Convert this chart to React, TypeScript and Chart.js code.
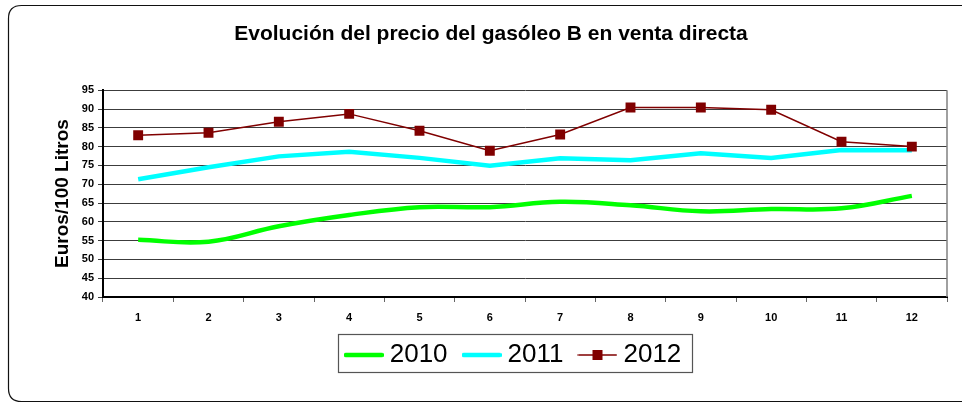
import React, { useEffect, useRef } from "react";
import { Chart, registerables } from "chart.js";

Chart.register(...registerables);

const months = ["1", "2", "3", "4", "5", "6", "7", "8", "9", "10", "11", "12"];
const values2010 = [55.2, 54.7, 58.8, 61.8, 63.9, 63.9, 65.3, 64.4, 62.8, 63.4, 63.6, 66.9];
const values2011 = [71.3, 74.5, 77.4, 78.6, 77.0, 74.9, 76.9, 76.4, 78.2, 77.0, 79.1, 79.0];
const values2012 = [83.0, 83.7, 86.6, 88.7, 84.2, 78.9, 83.2, 90.4, 90.4, 89.8, 81.3, 80.0];
const seriesNames = ["2010", "2011", "2012"];
const titleText = "Evolución del precio del gasóleo B en venta directa";
const yTitle = "Euros/100 Litros";

const FONT = "Arial, 'Liberation Sans', sans-serif";
const LEGEND_FONT_SIZE = 26;
const LEGEND_PAD = 21;
const LEGEND_CENTER = 516;
const TITLE_CENTER = 491;

function makeLineIcon(color: string, width: number, withSquare: boolean) {
  const c = document.createElement("canvas");
  c.width = 40;
  c.height = 12;
  const ctx = c.getContext("2d")!;
  ctx.strokeStyle = color;
  ctx.lineWidth = width;
  ctx.lineCap = "round";
  ctx.beginPath();
  ctx.moveTo(withSquare ? 1 : 2, 6);
  ctx.lineTo(withSquare ? 39 : 38, 6);
  ctx.stroke();
  if (withSquare) {
    ctx.fillStyle = color;
    ctx.fillRect(15, 1, 10, 10);
  }
  return c;
}

const framePlugin = {
  id: "frame",
  beforeDraw(chart: any) {
    const ctx = chart.ctx;
    ctx.save();
    ctx.fillStyle = "#fff";
    ctx.fillRect(0, 0, chart.width, chart.height);
    ctx.strokeStyle = "#111";
    ctx.lineWidth = 1.2;
    const l = 8.5, t = 5.5, r = 962, b = 401.5, rad = 13;
    ctx.beginPath();
    ctx.moveTo(r, t);
    ctx.lineTo(l + rad, t);
    ctx.quadraticCurveTo(l, t, l, t + rad);
    ctx.lineTo(l, b - rad);
    ctx.quadraticCurveTo(l, b, l + rad, b);
    ctx.lineTo(r, b);
    ctx.stroke();
    ctx.restore();
  },
  afterLayout(chart: any) {
    const lg = chart.legend;
    if (lg) {
      const shift = LEGEND_CENTER - (lg.left + lg.right) / 2;
      lg.left += shift;
      lg.right += shift;
    }
    const tt = chart.titleBlock;
    if (tt) {
      const shift = TITLE_CENTER - (tt.left + tt.right) / 2;
      tt.left += shift;
      tt.right += shift;
    }
  },
  afterDraw(chart: any) {
    const ctx = chart.ctx;
    const ca = chart.chartArea;
    ctx.save();
    // right border of plot area
    ctx.strokeStyle = "#808080";
    ctx.lineWidth = 1.5;
    ctx.beginPath();
    ctx.moveTo(ca.right, ca.top);
    ctx.lineTo(ca.right, ca.bottom);
    ctx.stroke();
    // legend box
    const lg = chart.legend;
    if (lg) {
      ctx.font = `${LEGEND_FONT_SIZE}px ${FONT}`;
      const boxW = 26;
      let sum = 0;
      seriesNames.forEach((s) => {
        sum += boxW + LEGEND_FONT_SIZE / 2 + ctx.measureText(s).width;
      });
      const content = sum + 2 * LEGEND_PAD;
      const cx = (lg.left + lg.right) / 2;
      const start = cx - content / 2;
      const cy = lg.top + LEGEND_PAD + LEGEND_FONT_SIZE / 2;
      ctx.strokeStyle = "#555";
      ctx.lineWidth = 1.2;
      ctx.strokeRect(Math.round(start - 13) + 0.5, Math.round(cy - 21) + 0.5, Math.round(content + 23), 38);
    }
    ctx.restore();
  },
};

export default function App() {
  const ref = useRef<HTMLCanvasElement | null>(null);
  useEffect(() => {
    document.body.style.margin = "0";
    const icons = [
      makeLineIcon("#00ff00", 4.5, false),
      makeLineIcon("#00ffff", 4.5, false),
      makeLineIcon("#800000", 1.5, true),
    ];
    const chart = new Chart(ref.current!, {
      type: "line",
      data: {
        labels: months,
        datasets: [
          {
            label: seriesNames[0],
            data: values2010,
            borderColor: "#00ff00",
            backgroundColor: "#00ff00",
            borderWidth: 4.5,
            tension: 0.4,
            pointRadius: 0,
            order: 3,
          },
          {
            label: seriesNames[1],
            data: values2011,
            borderColor: "#00ffff",
            backgroundColor: "#00ffff",
            borderWidth: 4.5,
            tension: 0,
            pointRadius: 0,
            order: 2,
          },
          {
            label: seriesNames[2],
            data: values2012,
            borderColor: "#800000",
            backgroundColor: "#800000",
            borderWidth: 1.5,
            tension: 0,
            pointStyle: "rect",
            pointRadius: 7,
            pointBorderWidth: 0,
            pointBackgroundColor: "#800000",
            order: 1,
          },
        ],
      },
      options: {
        responsive: false,
        animation: false,
        layout: { padding: { left: 16, right: 18, top: 22, bottom: 25 } },
        plugins: {
          title: {
            display: true,
            text: titleText,
            color: "#000",
            font: { family: FONT, size: 21, weight: "bold" },
            padding: { top: 0, bottom: 43 },
          },
          legend: {
            position: "bottom",
            labels: {
              usePointStyle: true,
              pointStyleWidth: 26,
              padding: LEGEND_PAD,
              color: "#000",
              font: { family: FONT, size: LEGEND_FONT_SIZE },
              sort: (a: any, b: any) => a.datasetIndex - b.datasetIndex,
              generateLabels: (chart: any) =>
                chart.data.datasets.map((ds: any, i: number) => ({
                  text: ds.label,
                  datasetIndex: i,
                  pointStyle: icons[i],
                  fillStyle: ds.borderColor,
                  strokeStyle: ds.borderColor,
                  lineWidth: 0,
                  hidden: false,
                  fontColor: "#000",
                })),
            },
          },
          tooltip: { enabled: false },
        },
        scales: {
          x: {
            type: "category",
            offset: true,
            grid: {
              display: true,
              offset: true,
              drawOnChartArea: false,
              drawTicks: true,
              tickLength: 5,
              color: "#666",
            },
            border: { display: true, color: "#000", width: 2 },
            ticks: {
              color: "#000",
              padding: 9,
              font: { family: FONT, size: 11, weight: "bold" },
              maxRotation: 0,
            },
            afterFit: (s: any) => {
              s.height = 24;
            },
          },
          y: {
            min: 40,
            max: 95,
            ticks: {
              stepSize: 5,
              color: "#000",
              padding: 4,
              font: { family: FONT, size: 11, weight: "bold" },
            },
            grid: {
              color: "#3c3c3c",
              lineWidth: 1,
              tickLength: 5,
            },
            border: { display: true, color: "#000", width: 2 },
            title: {
              display: true,
              text: yTitle,
              color: "#000",
              font: { family: FONT, size: 19, weight: "bold" },
              padding: { top: 35, bottom: 0 },
            },
            afterFit: (s: any) => {
              s.width = 87;
            },
          },
        },
      },
      plugins: [framePlugin],
    });
    return () => chart.destroy();
  }, []);
  return (
    <div style={{ width: 965, height: 403 }}>
      <canvas ref={ref} width={965} height={403} style={{ display: "block" }} />
    </div>
  );
}
